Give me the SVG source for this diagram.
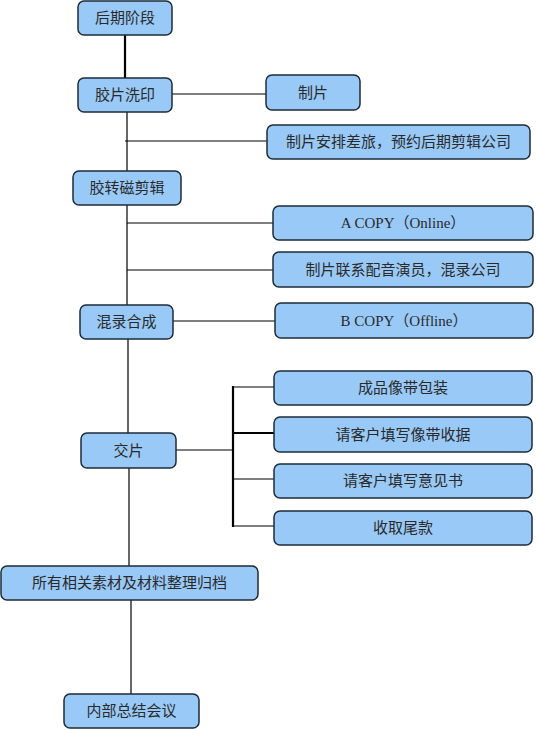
<svg xmlns="http://www.w3.org/2000/svg" width="537" height="730" viewBox="0 0 537 730">
<style>
.box{fill:#99C9F7;stroke:#1E2B38;stroke-width:1.5}
.t{font-family:"Liberation Serif","Noto Sans CJK SC",serif;font-size:15px;fill:#2A2A2A;text-anchor:middle;dominant-baseline:central}
.ln{stroke:#000;stroke-width:1.2;fill:none}
.thk{stroke:#000;stroke-width:2.2;fill:none}
</style>
<rect width="537" height="730" fill="#fff"/>
<g id="connectors">
<line class="thk" x1="125" y1="35" x2="125" y2="78"/>
<line class="ln" x1="172" y1="94" x2="266" y2="94"/>
<line class="ln" x1="127" y1="112" x2="127" y2="171"/>
<line class="ln" x1="125" y1="141" x2="267" y2="141"/>
<line class="ln" x1="127" y1="205" x2="127" y2="305"/>
<line class="ln" x1="127" y1="223" x2="273" y2="223"/>
<line class="ln" x1="127" y1="270" x2="273" y2="270"/>
<line class="ln" x1="173" y1="321" x2="275" y2="321"/>
<line class="ln" x1="128" y1="339" x2="128" y2="433"/>
<line class="ln" x1="176" y1="450" x2="233" y2="450"/>
<line class="thk" x1="233" y1="386" x2="233" y2="527"/>
<line class="ln" x1="233" y1="387" x2="274" y2="387"/>
<line class="thk" x1="233" y1="433" x2="274" y2="433"/>
<line class="ln" x1="233" y1="479" x2="274" y2="479"/>
<line class="ln" x1="233" y1="526" x2="274" y2="526"/>
<line class="ln" x1="129" y1="468" x2="129" y2="566"/>
<line class="ln" x1="131" y1="600" x2="131" y2="694"/>
</g>
<g id="n1"><rect class="box" x="78" y="1" width="94" height="34" rx="6"/><text class="t" x="125" y="18">后期阶段</text></g>
<g id="n2"><rect class="box" x="78" y="78" width="94" height="34" rx="6"/><text class="t" x="125" y="95">胶片洗印</text></g>
<g id="n3"><rect class="box" x="266" y="75" width="94" height="35" rx="6"/><text class="t" x="313" y="92.5">制片</text></g>
<g id="n4"><rect class="box" x="267" y="125" width="263" height="34" rx="6"/><text class="t" x="398.5" y="142">制片安排差旅，预约后期剪辑公司</text></g>
<g id="n5"><rect class="box" x="73" y="171" width="108" height="34" rx="6"/><text class="t" x="127" y="188">胶转磁剪辑</text></g>
<g id="n6"><rect class="box" x="273" y="206" width="260" height="34" rx="6"/><text class="t" x="403" y="223">A COPY（Online）</text></g>
<g id="n7"><rect class="box" x="273" y="252" width="260" height="35" rx="6"/><text class="t" x="403" y="269.5">制片联系配音演员，混录公司</text></g>
<g id="n8"><rect class="box" x="80" y="305" width="93" height="34" rx="6"/><text class="t" x="126.5" y="322">混录合成</text></g>
<g id="n9"><rect class="box" x="275" y="303" width="258" height="35" rx="6"/><text class="t" x="404" y="320.5">B COPY（Offline）</text></g>
<g id="n10"><rect class="box" x="274" y="371" width="258" height="34" rx="6"/><text class="t" x="403" y="388">成品像带包装</text></g>
<g id="n11"><rect class="box" x="81" y="433" width="95" height="35" rx="6"/><text class="t" x="128.5" y="450.5">交片</text></g>
<g id="n12"><rect class="box" x="274" y="417" width="258" height="35" rx="6"/><text class="t" x="403" y="434.5">请客户填写像带收据</text></g>
<g id="n13"><rect class="box" x="274" y="464" width="258" height="34" rx="6"/><text class="t" x="403" y="481">请客户填写意见书</text></g>
<g id="n14"><rect class="box" x="274" y="511" width="258" height="34" rx="6"/><text class="t" x="403" y="528">收取尾款</text></g>
<g id="n15"><rect class="box" x="1" y="566" width="257" height="34" rx="6"/><text class="t" x="129.5" y="583">所有相关素材及材料整理归档</text></g>
<g id="n16"><rect class="box" x="64" y="694" width="135" height="34" rx="6"/><text class="t" x="131.5" y="711">内部总结会议</text></g>
</svg>
